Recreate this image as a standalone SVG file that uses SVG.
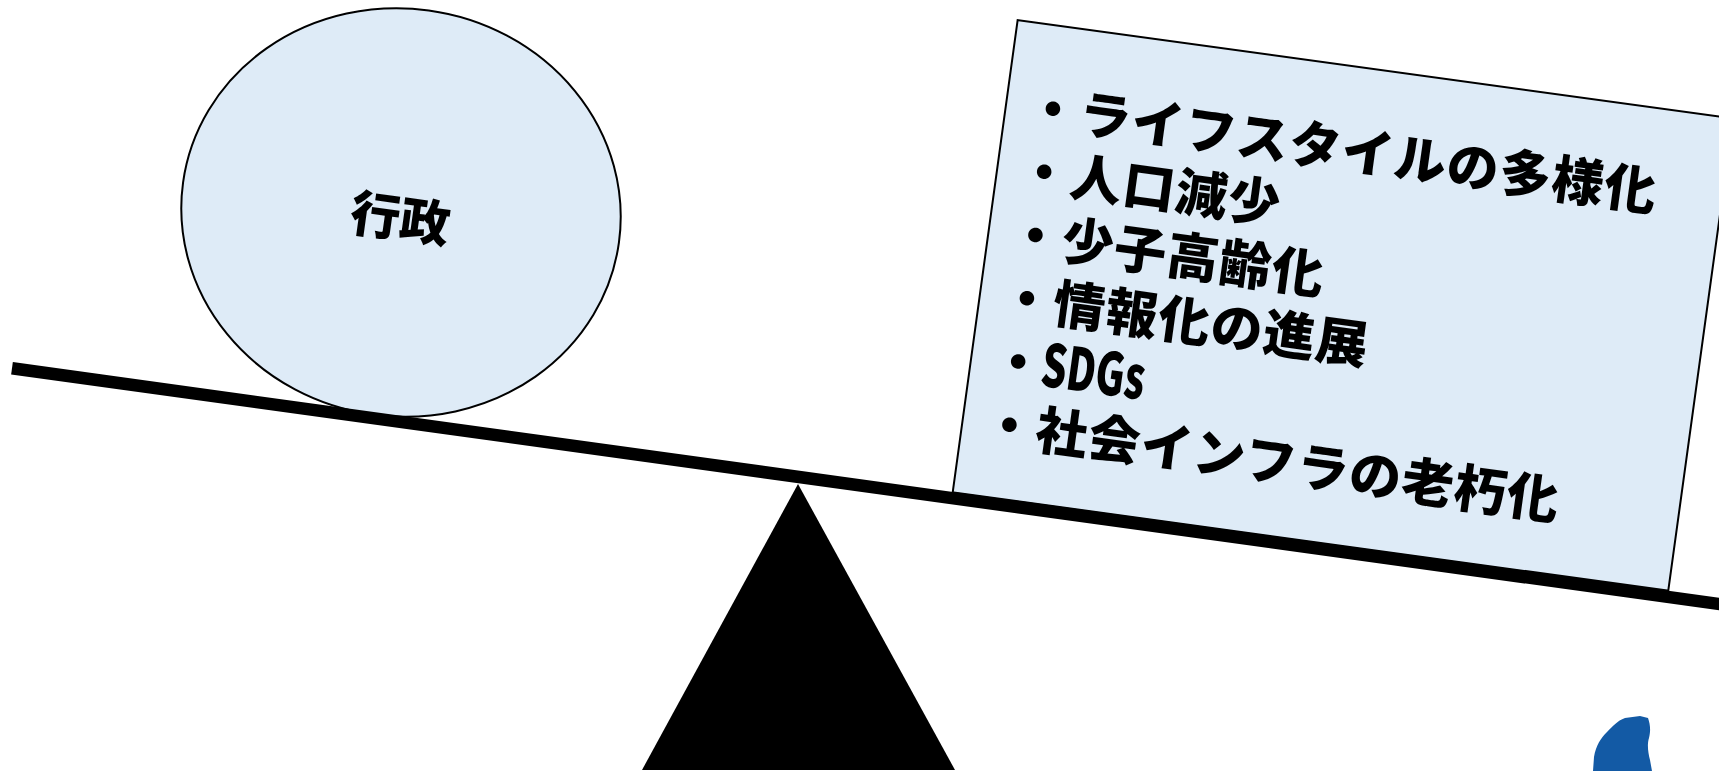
<svg xmlns="http://www.w3.org/2000/svg" width="1719" height="771" viewBox="0 0 1719 771">
  <style>
    .shape { fill: #DEEBF7; stroke: #000000; stroke-width: 2; }
    .label { font-family: "Noto Sans CJK JP", "Noto Sans", sans-serif; font-weight: 900; fill: #000000; }
    .item { font-size: 52px; letter-spacing: 1px; }
  </style>
  <rect x="0" y="0" width="1719" height="771" fill="#FFFFFF"/>

  <g id="gyosei" transform="rotate(7.83 401 212.5)">
    <ellipse class="shape" cx="401" cy="212.5" rx="220" ry="204"/>
    <text class="label" x="401" y="237" font-size="50" text-anchor="middle">行政</text>
  </g>

  <g id="factors" transform="translate(952.7,492.3) rotate(7.83)">
    <rect class="shape" x="0" y="-476.7" width="722.3" height="476.7"/>
    <text class="label item" x="21" y="-374">・ライフスタイルの多様化</text>
    <text class="label item" x="21" y="-310.2">・人口減少</text>
    <text class="label item" x="21" y="-246.4">・少子高齢化</text>
    <text class="label item" x="21" y="-182.6">・情報化の進展</text>
    <text class="label item" x="21" y="-118.8">・</text>
    <text class="label" x="71" y="-117.5" font-size="59" textLength="104" lengthAdjust="spacingAndGlyphs">SDGs</text>
    <text class="label item" x="21" y="-55">・社会インフラの老朽化</text>
  </g>

  <g id="beam">
    <line x1="12" y1="368.3" x2="1730" y2="605.5" stroke="#000000" stroke-width="12.5"/>
  </g>

  <g id="fulcrum">
    <polygon points="798,484 642,770 955,770" fill="#000000"/>
  </g>

  <g id="blob">
    <path d="M1593,771 L1594,757 C1596,745 1601,738 1607,732 C1613,726 1617,721 1625,718 L1640,716 L1648,718 C1650,724 1651,730 1649,738 C1647,744 1648,752 1650,760 L1652,771 Z" fill="#135AA5"/>
  </g>
</svg>
